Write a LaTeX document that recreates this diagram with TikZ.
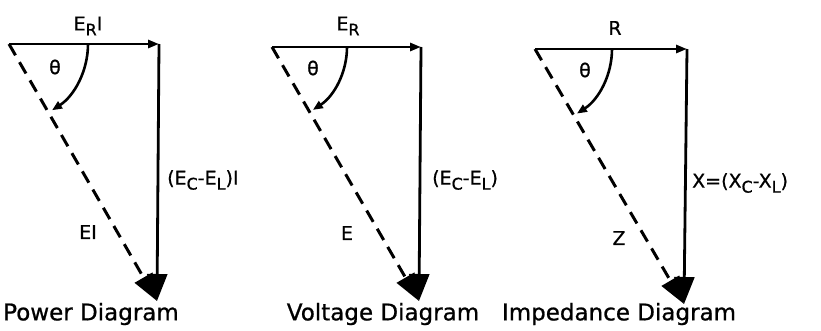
\documentclass[tikz,border=0pt]{standalone}
\usepackage{fontspec}
\setmainfont[FakeBold=0.8,AutoFakeBold=0.8]{DejaVu Sans}
\usetikzlibrary{arrows.meta,calc}
\newcommand\lsub[1]{\raisebox{-5pt}{\fontsize{16}{16}\selectfont #1}}
\begin{document}
\begin{tikzpicture}[x=1pt,y=-1pt,
 vec/.style={line width=2.8pt},
 side/.style={vec,-{Triangle[length=11pt,width=8pt]}},
 res/.style={vec,-{Triangle[length=27pt,width=20pt]}},
 hyp/.style={line width=3pt,dash pattern=on 13pt off 8pt,-{Triangle[length=27pt,width=20pt]}},
 ang/.style={line width=2.6pt,-{Triangle[length=10pt,width=8pt]}},
 lbl/.style={font=\fontsize{19}{19}\selectfont\bfseries, inner sep=0pt},
 ttl/.style={font=\fontsize{23}{23}\selectfont, inner sep=0pt}]
\useasboundingbox (0,0) rectangle (821,331);
% power diagram
\coordinate (O1) at (9,44);
\coordinate (C1) at (159,44);
\coordinate (T1) at (157,301);
\coordinate (A1) at (88,44);
\draw[side] (O1) -- (C1);
\draw[res] (C1) -- (T1);
\draw[hyp] (O1) -- (T1);
\draw[ang] (A1) arc[start angle=0,end angle=57,radius=79];
\node[lbl] (t1) at (55,67) {θ};
\node[lbl] (p1) at (88,26) {E\lsub{R}I};
\node[lbl,anchor=west] (q1) at (167,180) {(E\lsub{C}-E\lsub{L})I};
\node[lbl] (r1) at (88,232) {EI};
\node[ttl] (n1) at (91,314) {Power Diagram};
% voltage diagram
\coordinate (O2) at (272,47);
\coordinate (C2) at (421,47);
\coordinate (T2) at (419,301);
\coordinate (A2) at (347,47);
\draw[side] (O2) -- (C2);
\draw[res] (C2) -- (T2);
\draw[hyp] (O2) -- (T2);
\draw[ang] (A2) arc[start angle=0,end angle=57,radius=75];
\node[lbl] (t2) at (313,68) {θ};
\node[lbl] (p2) at (348,26) {E\lsub{R}};
\node[lbl,anchor=west] (q2) at (432,180) {(E\lsub{C}-E\lsub{L})};
\node[lbl] (r2) at (347,233) {E};
\node[ttl] (n2) at (383,314) {Voltage Diagram};
% impedance diagram
\coordinate (O3) at (535,49);
\coordinate (C3) at (687,49);
\coordinate (T3) at (684,304);
\coordinate (A3) at (612,49);
\draw[side] (O3) -- (C3);
\draw[res] (C3) -- (T3);
\draw[hyp] (O3) -- (T3);
\draw[ang] (A3) arc[start angle=0,end angle=57,radius=77];
\node[lbl] (t3) at (585,70) {θ};
\node[lbl] (p3) at (615,28) {R};
\node[lbl,anchor=west] (q3) at (692,183) {X=(X\lsub{C}-X\lsub{L})};
\node[lbl] (r3) at (619,238) {Z};
\node[ttl] (n3) at (619,314) {Impedance Diagram};
\end{tikzpicture}
\end{document}
